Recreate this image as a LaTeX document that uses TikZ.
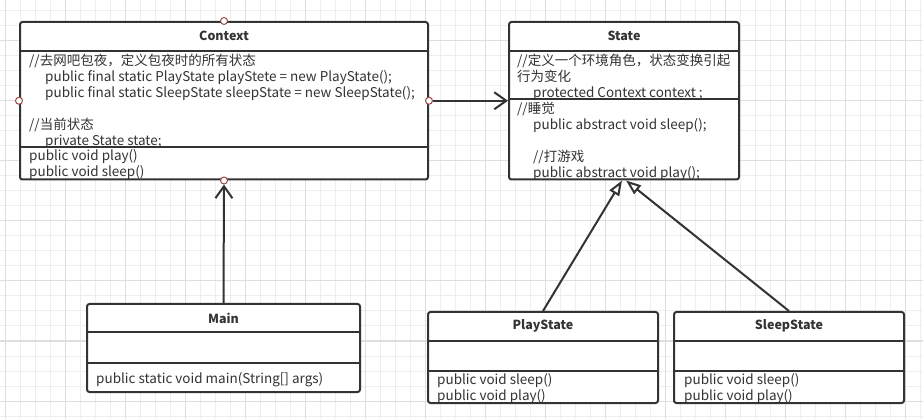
\documentclass[tikz,border=0pt]{standalone}
\usepackage{fontspec}
\setmainfont{Noto Sans CJK SC}
\usetikzlibrary{positioning,arrows.meta}
\definecolor{umlline}{HTML}{333333}
\definecolor{umltext}{HTML}{333333}
\definecolor{gridminor}{HTML}{EEEEEE}
\definecolor{gridmajor}{HTML}{DEDEDE}
\definecolor{portred}{HTML}{A04848}

\begin{document}
\begin{tikzpicture}[x=1pt,y=-1pt,
		classbox/.style={draw=umlline,line width=2pt,rounded corners=2.5pt,fill=white,inner sep=0pt},
		title/.style={font=\fontsize{12.5}{16}\selectfont\bfseries,text=umltext},
		body/.style={font=\fontsize{13.5}{16}\selectfont,text=umltext,align=left,inner sep=0pt,anchor=north west,execute at begin node=\strut},
		sep/.style={draw=umlline,line width=2pt},
		port/.style={circle,draw=portred,fill=white,line width=1pt,minimum size=7pt,inner sep=0pt},
		assoc/.style={draw=umlline,line width=2pt,-{Straight Barb[length=12pt,width=17pt]}},
		inherit/.style={draw=umlline,line width=2pt,-{Triangle[open,length=15pt,width=11pt,fill=white]}}]
	\useasboundingbox (0,0) rectangle (923,419);
	% background grid
	\foreach \gx in {5,20,...,920} \draw[gridminor,line width=1pt] (\gx,0) -- (\gx,419);
	\foreach \gy in {11,26,...,416} \draw[gridminor,line width=1pt] (0,\gy) -- (923,\gy);
	\foreach \gx in {5,65,...,905} \draw[gridmajor,line width=1pt] (\gx,0) -- (\gx,419);
	\foreach \gy in {41,101,...,401} \draw[gridmajor,line width=1pt] (0,\gy) -- (923,\gy);
	
	% classes
	\node[classbox,minimum width=408pt,minimum height=157.5pt] at (224,100.75) (context) {};
	\node[classbox,minimum width=230pt,minimum height=157.5pt] at (624,100.75) (state) {};
	\node[classbox,minimum width=273pt,minimum height=88pt] at (223.5,348) (main) {};
	\node[classbox,minimum width=230pt,minimum height=91pt] at (543,357.5) (playstate) {};
	\node[classbox,minimum width=230pt,minimum height=91pt] at (789,357.5) (sleepstate) {};
	
	\draw[sep] ([yshift=-30pt]context.north west) -- ([yshift=-30pt]context.north east);
	\draw[sep] ([yshift=-126pt]context.north west) -- ([yshift=-126pt]context.north east);
	\draw[sep] ([yshift=-30pt]state.north west) -- ([yshift=-30pt]state.north east);
	\draw[sep] ([yshift=-78pt]state.north west) -- ([yshift=-78pt]state.north east);
	\draw[sep] ([yshift=-29pt]main.north west) -- ([yshift=-29pt]main.north east);
	\draw[sep] ([yshift=-60pt]main.north west) -- ([yshift=-60pt]main.north east);
	\draw[sep] ([yshift=-30pt]playstate.north west) -- ([yshift=-30pt]playstate.north east);
	\draw[sep] ([yshift=-60pt]playstate.north west) -- ([yshift=-60pt]playstate.north east);
	\draw[sep] ([yshift=-30pt]sleepstate.north west) -- ([yshift=-30pt]sleepstate.north east);
	\draw[sep] ([yshift=-60pt]sleepstate.north west) -- ([yshift=-60pt]sleepstate.north east);
	
	\node[title] at ([yshift=-15pt]context.north) (contexttitle) {Context};
	\node[title] at ([yshift=-15pt]state.north) (statetitle) {State};
	\node[title] at ([yshift=-15pt]main.north) (maintitle) {Main};
	\node[title] at ([yshift=-15pt]playstate.north) (playtitle) {PlayState};
	\node[title] at ([yshift=-15pt]sleepstate.north) (sleeptitle) {SleepState};
	
	\node[body] at ([shift={(10pt,-32.8pt)}]context.north west) (contextattr) {//去网吧包夜，定义包夜时的所有状态\\
		\hspace*{16pt}public final static PlayState playStete = new PlayState();\\
		\hspace*{16pt}public final static SleepState sleepState = new SleepState();\\
		\mbox{}\\
		//当前状态\\
		\hspace*{16pt}private State state;};
	\node[body] at ([shift={(10pt,-127.8pt)}]context.north west) (contextops) {public void play()\\public void sleep()};
	\node[body] at ([shift={(9pt,-32.8pt)}]state.north west) (stateattr) {//定义一个环境角色，状态变换引起\\
		行为变化\\
		\hspace*{16pt}protected Context context ;};
	\node[body] at ([shift={(9pt,-80.8pt)}]state.north west) (stateops) {//睡觉\\
		\hspace*{16pt}public abstract void sleep();\\
		\mbox{}\\
		\hspace*{16pt}//打游戏\\
		\hspace*{16pt}public abstract void play();};
	\node[body] at ([shift={(10pt,-68.8pt)}]main.north west) (mainops) {public static void main(String[] args)};
	\node[body] at ([shift={(10pt,-61.8pt)}]playstate.north west) (playops) {public void sleep()\\public void play()};
	\node[body] at ([shift={(11pt,-61.8pt)}]sleepstate.north west) (sleepops) {public void sleep()\\public void play()};
	
	% ports on Context
	\node[port] at (context.north) (ctxtop) {};
	\node[port] at (context.west) (ctxleft) {};
	\node[port] at (context.east) (ctxright) {};
	\node[port] at (context.south) (ctxbottom) {};
	
	% relations
	\draw[assoc] (main.north) -- (ctxbottom);
	\draw[assoc] (ctxright) -- (state.west);
	\draw[inherit] (playstate.north) -- ([xshift=-2pt]state.south);
	\draw[inherit] (sleepstate.north) -- ([xshift=2pt]state.south);
\end{tikzpicture}
\end{document}
